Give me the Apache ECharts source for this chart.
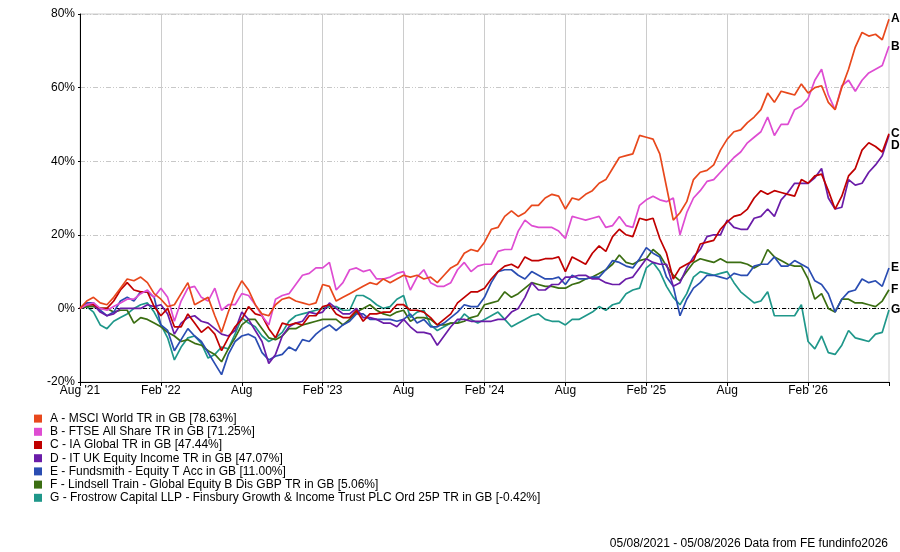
<!DOCTYPE html>
<html>
<head>
<meta charset="utf-8">
<script src="https://cdn.jsdelivr.net/npm/echarts@6/dist/echarts.min.js"></script>
<style>
  html, body { margin: 0; padding: 0; background: #fff; }
  #chart { width: 900px; height: 552px; }
</style>
</head>
<body>
<div id="chart"></div>
<script>
// half-month points, 1st and 16th of each month, Aug 2021 .. Aug 2026
const dates = []
for (let i = 0; i <= 120; i++) {
    const m = 7 + Math.floor(i / 2)
    const y = 2021 + Math.floor(m / 12)
    const mo = String(m % 12 + 1).padStart(2, '0')
    dates.push(`${y}-${mo}-${i % 2 ? '16' : '01'}`)
}

const tickDates = ['2021-08-01', '2022-02-01', '2022-08-01', '2023-02-01', '2023-08-01',
    '2024-02-01', '2024-08-01', '2025-02-01', '2025-08-01', '2026-02-01']
const tickLabels = ["Aug '21", "Feb '22", 'Aug', "Feb '23", 'Aug', "Feb '24", 'Aug', "Feb '25", 'Aug', "Feb '26"]
const yTicks = [-20, 0, 20, 40, 60, 80]

const names = [
    'A - MSCI World TR in GB [78.63%]',
    'B - FTSE All Share TR in GB [71.25%]',
    'C - IA Global TR in GB [47.44%]',
    'D - IT UK Equity Income TR in GB [47.07%]',
    'E - Fundsmith - Equity T Acc in GB [11.00%]',
    'F - Lindsell Train - Global Equity B Dis GBP TR in GB [5.06%]',
    'G - Frostrow Capital LLP - Finsbury Growth & Income Trust PLC Ord 25P TR in GB [-0.42%]'
]
const letters = ['A', 'B', 'C', 'D', 'E', 'F', 'G']
const colors = ['#E8481C', '#DE4CD2', '#C00000', '#6A1CA8', '#2A4DB2', '#3B6E12', '#1F978A']

const msciWorld = [0,2,3,1.5,1,3,5.5,8,7.5,8.5,
    7,4,2.5,0.5,1,4,7,1,2,3,
    -2,-6.5,-1,4,7.5,5,1,-1.5,-2,1,
    2.5,3,2,1.5,1,1.5,6.5,6,2,3,
    4,5,6,7,6.5,8,7,8,9,8.5,
    9,8,8.5,7,9,11,12,15,16,15.5,
    18,21.5,22,25,26.5,25,26,28,28,30,
    31,30.5,27,30,29.5,31,32,34,35,38,
    41,41.5,42,47,46.5,46,42,33,24,26,
    29,35,37,37.5,39,43,46,48,48.5,50.5,
    52,54,58.5,56,59,58.5,58,61,58.5,60,
    60.5,56,54,60,65,71,75,74,74.5,73,
    78.6]
const ftseAll = [0,1,1.5,0,-0.5,0.5,1.5,2.5,2.5,4,
    5,3,5.5,3,-3.5,2,5.5,6,3,2,
    5.5,-0.5,1,1,4,3.5,1,-2,-4.5,2.5,
    3.5,4,6.5,9,9.5,11,11,12.5,5,7,
    10.5,11,10,10.5,8,8,8.5,9.5,10,5,
    8.5,10.5,7,6,6,7,10.5,12.5,10,11.5,
    12,12,15.5,16,16,21,24,22.5,22,22,
    22,21,19,25,24.5,24,24.5,25,22,22.5,
    25,22.5,22,28,29.5,30.5,29.5,29,30,20,
    26,30,32,34.5,35,37,39,41,42.5,45,
    46.5,48,52,47,50,50,54,55,57,62,
    65,58,54,60.5,62,59,62,64,65,66,
    71.25]
const iaGlobal = [0,1,1,0,0,2,5,7,5,4.5,
    4.5,0.5,-2,0,-5,-5,-1.5,-4,-6.5,-5,
    -7,-11.5,-8,-5,-3,0.5,-1.5,-2,-5.5,-8,
    -4,-4.5,-4,-4.5,-2,-2,0.5,1,-1.5,-2.5,
    -2.5,-0.5,-3.5,-1.5,-1.5,-1,-1,1,1,-0.5,
    -0.5,-1,-2.5,-4.5,-3,-1.5,1.5,3,4.5,4.5,
    5.5,8,10,11.5,12,11,14,13,13,13.5,
    13.5,14,10,14,13,12,15,17,15.5,19.5,
    21.5,20,19.5,24.5,24,24.5,19,15,8,11,
    12,13,17.5,18,18.5,21.5,23.5,25,25.5,27,
    30,32,31,32,31.5,31,30.5,35,34,36,
    36.5,32,27,30.5,36,38,43,45,44,42.5,
    47.44]
const ukEquityIncome = [0,1,1,-1,-2,-1.5,0,0,0,0,
    1,0.5,1,-1.5,-7,-4,-2.5,-2,-3.5,-4,
    -5.5,-7,-7.5,-6,-1,-3,-6,-9,-15,-12.5,
    -7.5,-5,-4,-3.5,-1,-1.5,-1,1.5,0,-1.5,
    -1.5,0,-2.5,-2.5,-3,-4,-4,-5,-3,-5,
    -6.5,-6.5,-7,-10,-7.5,-5,-3,-3,-3.5,-3.5,
    -3.5,-3.5,-3,-3,-1,0,3,7,5,5,
    6.5,6.5,8.5,8.5,9,9,8,8,7,6.5,
    6.5,8,8.5,11,13.5,12.5,12,12,6,7,
    11,14,16,19.5,20,20,24,22,21.5,21.5,
    24.5,25,27,25,29.5,31.5,34,34,34,35.5,
    38,30,27,27.5,35,33.5,34,37,39,41.5,
    47.07]
const fundsmith = [0,1.5,1.5,-0.5,-2,-1,2,3,2,4.5,
    4.5,3,-4.5,-6,-11.5,-8.5,-5.5,-7.5,-9,-12,
    -15,-18,-12.5,-9,-7.5,-7,-8,-12,-14,-13,
    -12.5,-10.5,-11.5,-8.5,-9,-7,-5.5,-4.5,-6,-4.5,
    -3.5,-1.5,-1.5,-3,-3,-3,-3,-3.5,-3,-1.5,
    -4,-3,-5,-5,-4,-2.5,-1,1,0.5,0.5,
    3,7,10,10.5,10.5,9,8,10,9,8,
    8,8.5,6.5,9,8,8,8.5,8.5,10.5,13,
    12.5,11.5,11,13.5,16.5,15,14,8.5,6,-2,
    2.5,5.5,7,9,9,8.5,8,9.5,9,9,
    11.5,12,12,14,11.5,11.5,13,12,11,7.5,
    6.5,4,-1,2.5,4.5,5,8,7,7.5,6,
    11]
const lindsellTrain = [0,0.5,0.5,0,0,-1,-0.5,-0.5,-4,-2.5,
    -3,-4,-5,-6.5,-7.5,-9,-8.5,-9.5,-10,-11.5,
    -12.5,-14.5,-11,-8,-4.5,-3,-3,-5.5,-8,-8.5,
    -7.5,-5.5,-5.5,-4.5,-4,-3.5,-3,-3,-3,-4.5,
    -3,-1,0,1,-0.5,-1.5,-2,-1,-0.5,-3.5,
    -2.5,-2.5,-3,-4.5,-4.5,-4,-4,-3.5,-2.5,-2,
    1,1.5,2,4.5,3,4,5.5,7,6.5,6,
    6,5.5,5.5,6.5,7,8,8.5,9.5,10.5,12,
    14.5,12.5,12,13,13.5,16,14.5,11.5,9,7.5,
    10,12.5,13.5,13,12.5,13.5,12.5,12.5,12.5,12,
    11,12,16,14,13,12,11.5,11.5,8,2.5,
    4,0,-1,2.5,2.5,1.5,1.5,1,0.5,2,
    5.06]
const finsbury = [0,0.5,-1,-4.5,-5.5,-3.5,-2.5,-1.5,0,1,
    1.5,-1,-4.5,-8,-14,-10.5,-8,-7.5,-9.5,-13.5,
    -12.5,-10.5,-11,-7,-2.5,-4,-5,-7.5,-9,-8,
    -6.5,-3.5,-2,-1.5,-1,-0.5,0,0.5,0.5,-0.5,
    -0.5,3.5,3.5,2.5,1,0,0.5,2.5,3.5,-2.5,
    -1,-0.5,-4.5,-6,-5,-4,-4,-1.5,-3,-4,
    -3,-2,-1,-3,-5,-4,-3,-2,-1.5,-3,
    -3.5,-3.5,-4.5,-3,-3,-2,-1,0.5,-0.5,1,
    1.5,4,5,5.5,11,12.5,10,6,3,1,
    4,8.5,10,9.5,9,9.5,10,7,4.5,3,
    1.5,2,4.5,-2,-2,-2,-2,1,-9,-11,
    -7.5,-12,-12.5,-10,-6,-8,-8.5,-9,-7,-6.5,
    -0.42]

const values = [msciWorld, ftseAll, iaGlobal, ukEquityIncome, fundsmith, lindsellTrain, finsbury]

const FONT = "'Liberation Sans', Arial, sans-serif"

const series = values.map((v, k) => ({
    name: names[k],
    type: 'line',
    data: v,
    symbol: 'none',
    color: colors[k],
    lineStyle: { width: 1.7, color: colors[k] },
    z: 10 - k,
    endLabel: {
        show: true,
        formatter: letters[k],
        color: '#000',
        fontWeight: 'bold',
        fontSize: 12,
        fontFamily: FONT,
        distance: 2
    },
    labelLayout: { moveOverlap: 'shiftY' },
    emphasis: { disabled: true }
}))

// dotted zero line
series[0].markLine = {
    silent: true,
    symbol: ['none', 'none'],
    label: { show: false },
    lineStyle: { color: '#000', width: 1, type: [4, 2, 1, 2] },
    data: [{ yAxis: 0 }]
}

const chart = echarts.init(document.getElementById('chart'))
chart.setOption({
    animation: false,
    textStyle: { fontFamily: FONT },
    grid: {
        left: 80, right: 11, top: 14, bottom: 170,
        show: true, borderColor: '#cccccc', borderWidth: 1
    },
    xAxis: {
        type: 'category',
        boundaryGap: false,
        data: dates,
        axisLine: { show: true, onZero: false, lineStyle: { color: '#000', width: 1 } },
        axisTick: {
            show: true,
            length: 4,
            lineStyle: { color: '#000' },
            interval: (i, v) => tickDates.includes(v) || i === dates.length - 1
        },
        axisLabel: {
            color: '#000',
            fontSize: 12,
            margin: 3,
            interval: (i, v) => tickDates.includes(v),
            formatter: (v) => tickLabels[tickDates.indexOf(v)]
        },
        splitLine: {
            show: true,
            lineStyle: { color: '#cccccc', width: 1 },
            interval: (i, v) => tickDates.includes(v) && i > 0
        }
    },
    yAxis: {
        type: 'value',
        min: yTicks[0],
        max: yTicks[yTicks.length - 1],
        interval: 20,
        axisLine: { show: true, lineStyle: { color: '#000', width: 1 } },
        axisTick: { show: true, length: 2, lineStyle: { color: '#000' } },
        axisLabel: { color: '#000', fontSize: 12, margin: 5, formatter: '{value}%' },
        splitLine: { show: true, lineStyle: { color: '#c8c8c8', width: 1, type: [5, 2, 1, 2, 1, 2] } }
    },
    legend: {
        orient: 'vertical',
        left: 34,
        top: 412,
        padding: 0,
        icon: 'rect',
        itemWidth: 8,
        itemHeight: 8,
        itemGap: 0,
        selectedMode: false,
        textStyle: { color: '#000', fontSize: 12, lineHeight: 13.2, padding: [0, 0, 0, 3] },
        data: names
    },
    graphic: [{
        type: 'text',
        right: 12,
        top: 538,
        style: {
            text: '05/08/2021 - 05/08/2026 Data from FE fundinfo2026',
            font: "12px 'Liberation Sans', Arial, sans-serif",
            fill: '#000'
        }
    }],
    series: series
})
</script>
</body>
</html>
